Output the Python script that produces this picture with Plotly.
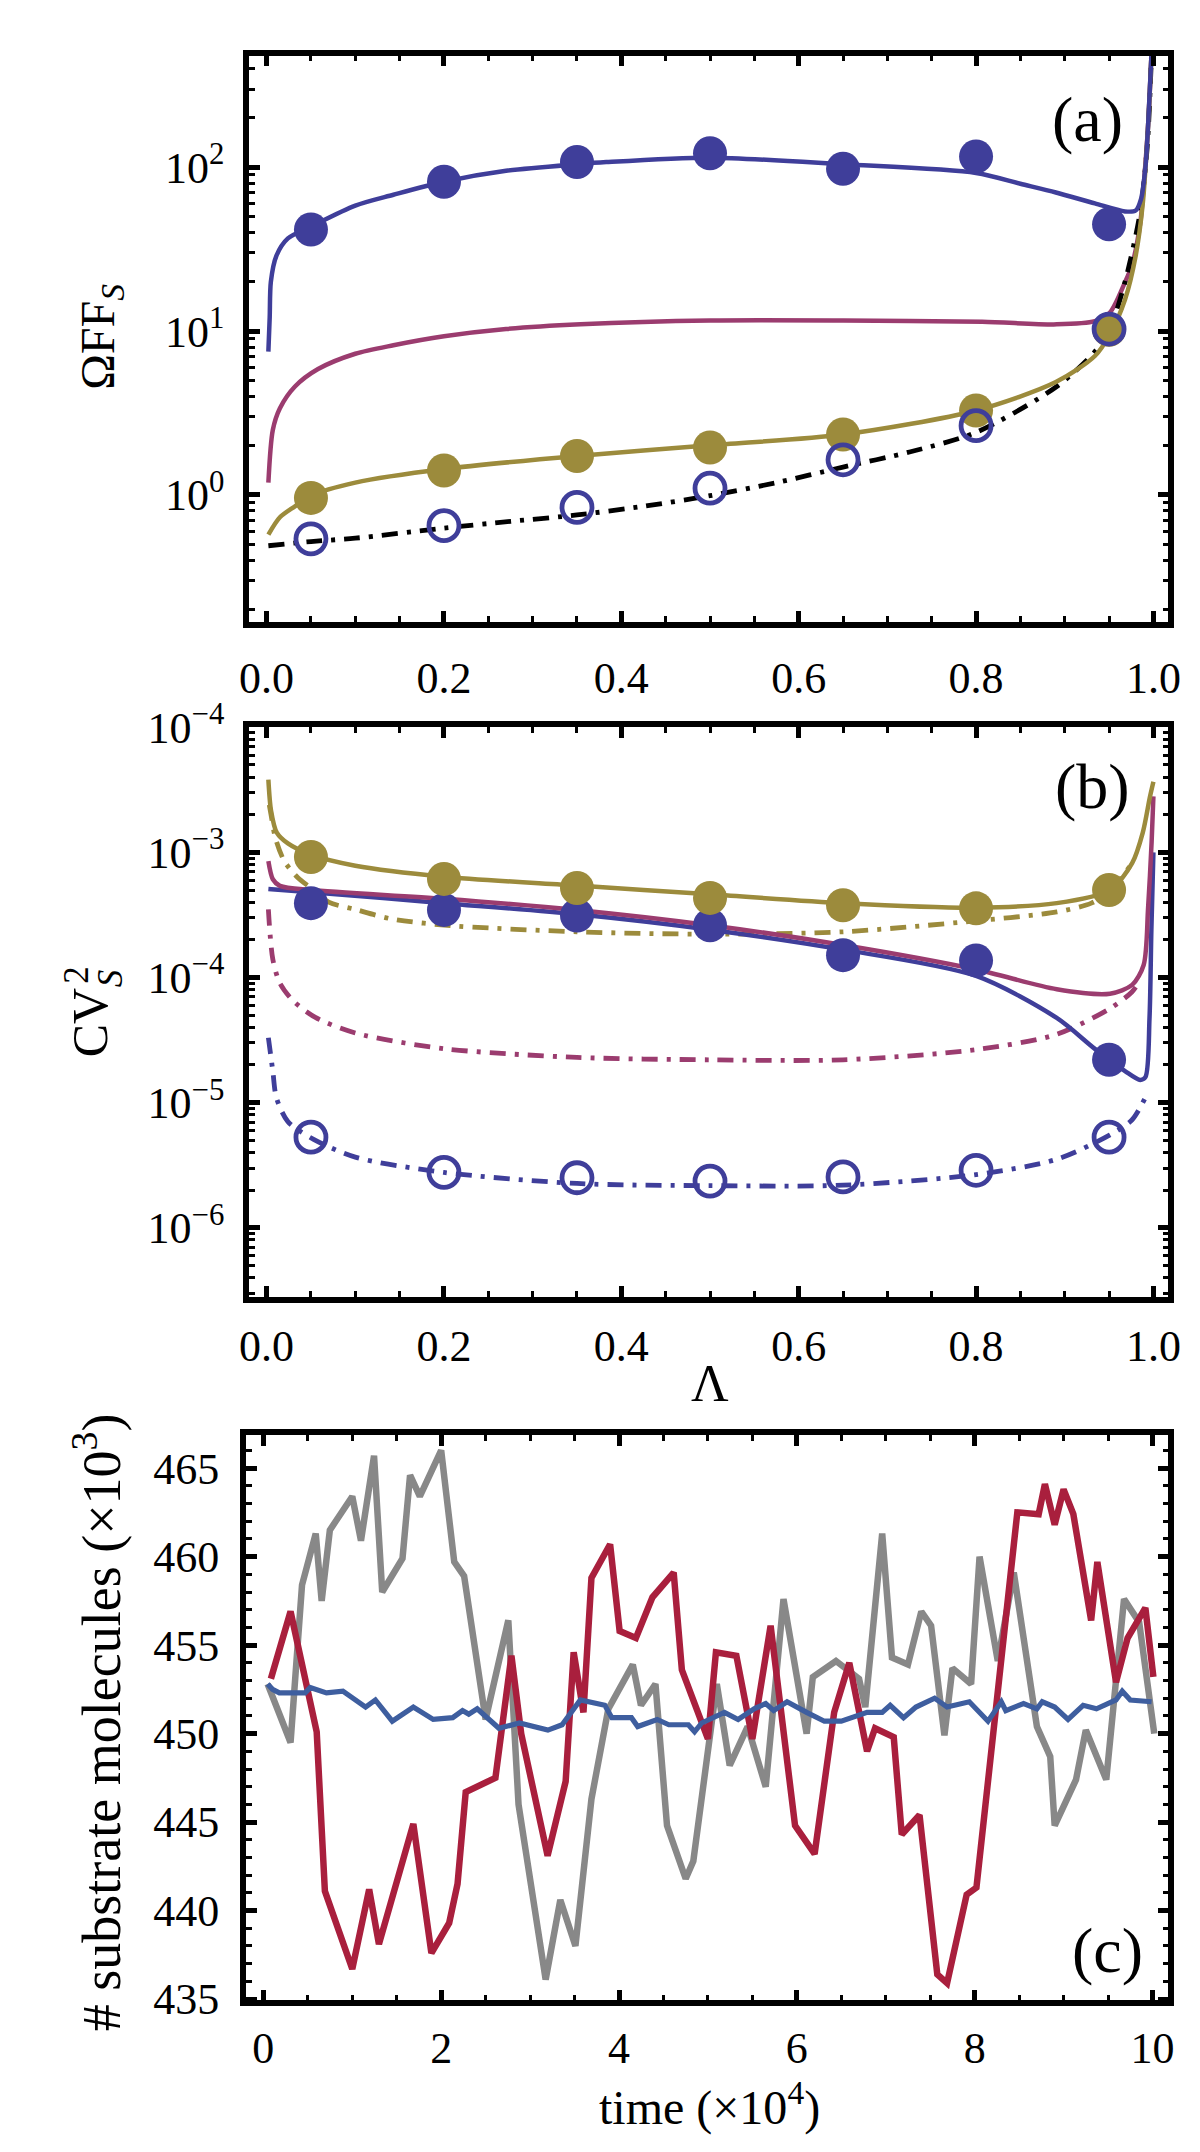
import plotly.graph_objects as go

FONT = "Liberation Serif, Times New Roman, DejaVu Serif, serif"
W, H = 1200, 2152

BLUE = "#3f3e9a"
MAGENTA = "#9b3c6f"
GOLD = "#9c8b3c"
GRAY = "#888888"
RED = "#a91f3d"
CBLUE = "#3e5e9f"

# ---------------- panel (a) data ----------------
lam_markers = [0.05, 0.2, 0.35, 0.5, 0.65, 0.8, 0.95]
a_blue_filled = [41.7, 81.7, 107.6, 121.7, 98.0, 116.5, 44.9]
a_gold_filled = [0.96, 1.41, 1.73, 1.95, 2.34, 3.28, 10.2]
a_blue_open = [0.54, 0.65, 0.84, 1.10, 1.64, 2.65, 10.3]

a_blue_x = [0.002, 0.0035, 0.0048, 0.011, 0.024, 0.053, 0.1, 0.143, 0.2, 0.27, 0.35, 0.383, 0.5,
            0.65, 0.8, 0.85, 0.89, 0.934, 0.968, 0.98, 0.986, 0.991, 0.994, 0.998]
a_blue_y = [7.5, 12.2, 20.0, 28.8, 36.8, 44.3, 58.4, 68.0, 81.7, 95.2, 104.4, 107.6, 114.5,
            104.4, 92.3, 79.3, 70.2, 60.2, 53.8, 54.5, 64.0, 100.0, 180.0, 515.0]

a_mag_x = [0.002, 0.007, 0.015, 0.032, 0.058, 0.1, 0.143, 0.2, 0.27, 0.354, 0.5, 0.65, 0.807,
           0.891, 0.934, 0.951, 0.968, 0.976, 0.985, 0.99, 0.994, 0.998]
a_mag_y = [1.19, 2.49, 3.38, 4.59, 5.87, 7.28, 8.2, 9.3, 10.3, 11.0, 11.6, 11.6, 11.4,
           11.0, 11.5, 13.0, 19.9, 25.5, 45.0, 90.0, 180.0, 515.0]

a_gold_x = [0.002, 0.015, 0.032, 0.05, 0.1, 0.2, 0.35, 0.5, 0.65, 0.8, 0.89, 0.934, 0.951,
            0.968, 0.98, 0.988, 0.994, 0.998]
a_gold_y = [0.573, 0.731, 0.853, 0.99, 1.19, 1.44, 1.73, 2.01, 2.34, 3.28, 4.89, 7.05, 9.57,
            15.6, 28.8, 60.0, 180.0, 515.0]

a_black_x = [0.002, 0.05, 0.1, 0.2, 0.275, 0.35, 0.425, 0.5, 0.575, 0.65, 0.725, 0.8, 0.891,
             0.934, 0.95, 0.968, 0.985, 0.993, 0.998]
a_black_y = [0.49, 0.52, 0.545, 0.628, 0.69, 0.755, 0.853, 0.99, 1.19, 1.48, 1.83, 2.41, 4.59,
             7.5, 10.0, 20.0, 53.0, 133.0, 515.0]

# ---------------- panel (b) data ----------------
b_gold_m = [9.2e-4, 6.14e-4, 5.2e-4, 4.33e-4, 3.78e-4, 3.57e-4, 5.0e-4]
b_blue_m = [3.93e-4, 3.47e-4, 3.13e-4, 2.62e-4, 1.51e-4, 1.37e-4, 2.2e-5]
b_open_m = [5.3e-6, 2.77e-6, 2.51e-6, 2.36e-6, 2.55e-6, 2.88e-6, 5.3e-6]

b_gold_x = [0.002, 0.005, 0.0115, 0.024, 0.05, 0.1, 0.2, 0.35, 0.5, 0.65, 0.8, 0.891, 0.951,
            0.976, 0.988, 0.996, 1.0]
b_gold_y = [3.82e-3, 2.16e-3, 1.44e-3, 1.18e-3, 9.6e-4, 7.83e-4, 6.4e-4, 5.43e-4, 4.62e-4,
            3.93e-4, 3.62e-4, 3.93e-4, 5.0e-4, 8.2e-4, 1.44e-3, 2.76e-3, 3.67e-3]

b_gold_dd_x = [0.003, 0.005, 0.01, 0.02, 0.035, 0.05, 0.07, 0.1, 0.14, 0.2, 0.35, 0.5, 0.65,
               0.8, 0.891, 0.93, 0.95, 0.976]
b_gold_dd_y = [2.4e-3, 2.0e-3, 1.3e-3, 8.5e-4, 6.3e-4, 5.2e-4, 4.0e-4, 3.5e-4, 2.95e-4, 2.62e-4,
               2.32e-4, 2.22e-4, 2.32e-4, 2.84e-4, 3.34e-4, 3.93e-4, 4.81e-4, 8.2e-4]

b_mag_x = [0.002, 0.007, 0.015, 0.05, 0.2, 0.35, 0.5, 0.65, 0.8, 0.891, 0.951, 0.976, 0.989,
           0.994, 0.998, 1.0]
b_mag_y = [8.5e-4, 6.1e-4, 5.4e-4, 5.0e-4, 4.26e-4, 3.47e-4, 2.62e-4, 1.82e-4, 1.16e-4,
           8.06e-5, 7.43e-5, 8.73e-5, 1.26e-4, 3.6e-4, 1.22e-3, 2.8e-3]

b_blue_x = [0.002, 0.05, 0.2, 0.35, 0.5, 0.65, 0.8, 0.891, 0.934, 0.968, 0.985, 0.991, 0.9956,
            0.9977, 1.0]
b_blue_y = [5.1e-4, 4.8e-4, 3.93e-4, 3.2e-4, 2.41e-4, 1.67e-4, 1.03e-4, 4.75e-5, 2.69e-5,
            1.79e-5, 1.52e-5, 1.6e-5, 4.75e-5, 2.4e-4, 1.0e-3]

b_mag_dd_x = [0.002, 0.007, 0.015, 0.03, 0.055, 0.1, 0.2, 0.35, 0.5, 0.65, 0.8, 0.89, 0.95,
              0.976, 0.985]
b_mag_dd_y = [3.5e-4, 1.4e-4, 9.0e-5, 6.5e-5, 4.8e-5, 3.6e-5, 2.7e-5, 2.3e-5, 2.2e-5, 2.2e-5,
              2.65e-5, 3.5e-5, 5.6e-5, 7.7e-5, 9.5e-5]

b_blue_dd_x = [0.002, 0.007, 0.011, 0.024, 0.053, 0.1, 0.2, 0.35, 0.5, 0.65, 0.8, 0.891, 0.951,
               0.976, 0.991]
b_blue_dd_y = [3.3e-5, 1.79e-5, 1.1e-5, 7.05e-6, 5.09e-6, 3.67e-6, 2.77e-6, 2.26e-6, 2.17e-6,
               2.19e-6, 2.66e-6, 3.53e-6, 5.52e-6, 7.3e-6, 1.1e-5]

# ---------------- panel (c) data ----------------
c_gray_t = [0.048, 0.306, 0.435, 0.589, 0.656, 0.748, 1.0, 1.098, 1.245, 1.337, 1.565, 1.65,
            1.76, 2.0, 2.147, 2.258, 2.50, 2.755, 2.87, 3.175, 3.34, 3.51, 3.69, 3.88, 4.155,
            4.247, 4.41, 4.54, 4.75, 4.836, 5.1, 5.245, 5.447, 5.65, 5.85, 6.11, 6.18, 6.44,
            6.70, 6.77, 6.96, 7.07, 7.25, 7.40, 7.51, 7.66, 7.75, 7.96, 8.055, 8.26, 8.44,
            8.70, 8.85, 8.90, 9.14, 9.25, 9.48, 9.68, 9.85, 10.02]
c_gray_v = [452.8, 449.5, 458.4, 461.3, 457.5, 461.5, 463.4, 460.9, 465.7, 458.0, 459.9, 464.6,
            463.4, 466.0, 459.7, 458.9, 450.8, 456.4, 446.0, 436.1, 440.6, 438.0, 446.3, 451.4,
            453.9, 451.6, 452.8, 444.8, 441.8, 442.8, 452.8, 448.2, 450.4, 447.0, 457.6, 450.0,
            453.2, 454.1, 453.1, 451.5, 461.3, 454.3, 453.9, 456.9, 456.1, 449.9, 453.7, 452.8,
            460.0, 454.1, 459.1, 450.4, 448.7, 444.8, 447.4, 450.2, 447.4, 457.6, 456.3, 450.0]

c_red_t = [0.085, 0.306, 0.60, 0.692, 1.0, 1.19, 1.30, 1.687, 1.89, 2.09, 2.184, 2.276, 2.61,
           2.79, 2.90, 3.197, 3.40, 3.49, 3.60, 3.69, 3.90, 4.007, 4.19, 4.376, 4.615, 4.707,
           5.0, 5.09, 5.32, 5.50, 5.705, 5.98, 6.20, 6.42, 6.59, 6.79, 6.88, 7.09, 7.18, 7.38,
           7.58, 7.69, 7.91, 8.02, 8.48, 8.72, 8.79, 8.90, 9.0, 9.11, 9.31, 9.38, 9.59, 9.72,
           9.92, 10.01]
c_red_v = [453.1, 456.9, 450.1, 441.1, 436.7, 441.2, 438.1, 444.9, 437.6, 439.3, 441.5, 446.7,
           447.5, 454.4, 450.0, 443.1, 447.3, 454.6, 451.2, 458.8, 460.7, 455.8, 455.4, 457.7,
           459.1, 453.6, 449.7, 454.6, 454.4, 449.7, 456.1, 444.8, 443.2, 451.2, 454.0, 449.0,
           450.3, 449.8, 444.3, 445.4, 436.4, 435.9, 440.9, 441.3, 462.5, 462.4, 464.1, 461.8,
           463.8, 462.4, 456.4, 459.7, 452.9, 455.4, 457.1, 453.2]

c_blue_t = [0.048, 0.103, 0.18, 0.47, 0.527, 0.71, 0.895, 1.15, 1.26, 1.45, 1.687, 1.91, 2.13,
            2.24, 2.31, 2.405, 2.65, 2.88, 3.20, 3.36, 3.565, 3.84, 3.92, 4.14, 4.21, 4.43,
            4.56, 4.78, 4.85, 4.93, 5.186, 5.34, 5.52, 5.65, 5.74, 5.89, 6.11, 6.31, 6.50,
            6.79, 6.96, 7.05, 7.2, 7.34, 7.55, 7.69, 7.94, 8.15, 8.30, 8.35, 8.55, 8.70, 8.76,
            8.90, 9.05, 9.22, 9.37, 9.59, 9.66, 9.75, 9.99]
c_blue_v = [452.8, 452.5, 452.3, 452.3, 452.6, 452.3, 452.4, 451.5, 451.9, 450.7, 451.5, 450.8,
            450.9, 451.3, 451.1, 451.4, 450.3, 450.6, 450.2, 450.5, 451.9, 451.6, 450.9, 450.9,
            450.4, 450.8, 450.5, 450.5, 450.1, 450.6, 451.2, 450.8, 451.4, 451.7, 451.3, 451.8,
            451.2, 450.7, 450.7, 451.2, 451.2, 451.6, 450.9, 451.5, 452.0, 451.5, 451.8, 450.7,
            451.8, 451.3, 451.7, 451.4, 451.8, 451.5, 450.8, 451.6, 451.4, 451.9, 452.4, 451.9,
            451.8]

# tick labels
lam_ticks = [0.0, 0.2, 0.4, 0.6, 0.8, 1.0]
lam_ticktext = ["0.0", "0.2", "0.4", "0.6", "0.8", "1.0"]
a_yticks = [1, 10, 100]
a_yticktext = ["10<sup>0</sup>", "10<sup>1</sup>", "10<sup>2</sup>"]
b_yticks = [1e-6, 1e-5, 1e-4, 1e-3, 1e-2]
b_yticktext = ["10<sup>\u22126</sup>", "10<sup>\u22125</sup>", "10<sup>\u22124</sup>",
               "10<sup>\u22123</sup>", "10<sup>\u22124</sup>"]
c_xticks = [0, 2, 4, 6, 8, 10]
c_yticks = [435, 440, 445, 450, 455, 460, 465]

# ---------------- figure ----------------
def px(x):
    return x / W


def py(y):
    return 1 - y / H


DD = "16px,9px,4px,9px"
fig = go.Figure()


def line(x, y, color, ax, width=4.5, dash="solid", shape="spline"):
    ln = dict(color=color, width=width, dash=dash, shape=shape)
    if shape == "spline":
        ln["smoothing"] = 0.8
    fig.add_trace(go.Scatter(x=x, y=y, mode="lines", xaxis=ax[0], yaxis=ax[1], line=ln,
                             showlegend=False, hoverinfo="skip"))


def filled(x, y, color, ax):
    fig.add_trace(go.Scatter(x=x, y=y, mode="markers", xaxis=ax[0], yaxis=ax[1],
                             marker=dict(symbol="circle", size=34, color=color,
                                         line=dict(width=0)),
                             showlegend=False, cliponaxis=False))


def opened(x, y, color, ax):
    fig.add_trace(go.Scatter(x=x, y=y, mode="markers", xaxis=ax[0], yaxis=ax[1],
                             marker=dict(symbol="circle-open", size=30, color=color,
                                         line=dict(width=4.8, color=color)),
                             showlegend=False, cliponaxis=False))


A = ("x", "y")
B = ("x2", "y2")
C = ("x3", "y3")

# panel (a)
line(a_mag_x, a_mag_y, MAGENTA, A)
line(a_black_x, a_black_y, "black", A, width=4.8, dash=DD)
line(a_gold_x, a_gold_y, GOLD, A)
line(a_blue_x, a_blue_y, BLUE, A)
filled(lam_markers, a_blue_filled, BLUE, A)
filled(lam_markers, a_gold_filled, GOLD, A)
opened(lam_markers, a_blue_open, BLUE, A)

# panel (b)
line(b_gold_dd_x, b_gold_dd_y, GOLD, B, width=4.8, dash=DD)
line(b_mag_dd_x, b_mag_dd_y, MAGENTA, B, width=4.8, dash=DD)
line(b_blue_dd_x, b_blue_dd_y, BLUE, B, width=4.8, dash=DD)
line(b_blue_x, b_blue_y, BLUE, B)
line(b_mag_x, b_mag_y, MAGENTA, B)
line(b_gold_x, b_gold_y, GOLD, B)
filled(lam_markers, b_blue_m, BLUE, B)
filled(lam_markers, b_gold_m, GOLD, B)
opened(lam_markers, b_open_m, BLUE, B)

# panel (c)
line(c_gray_t, c_gray_v, GRAY, C, width=6.5, shape="linear")
line(c_red_t, c_red_v, RED, C, width=6.5, shape="linear")
line(c_blue_t, c_blue_v, CBLUE, C, width=5.2, shape="linear")

TICKFONT = dict(family=FONT, size=44, color="black")
MINOR = dict(ticks="inside", ticklen=6, tickwidth=3, tickcolor="black", showgrid=False)


def frame(**kw):
    d = dict(showline=True, linecolor="black", linewidth=5.5, mirror="allticks",
             ticks="inside", ticklen=11, tickwidth=4.5, tickcolor="black",
             showgrid=False, zeroline=False, tickfont=TICKFONT, fixedrange=True)
    d.update(kw)
    return d


def log_minor(lo, hi):
    vals = []
    for e in range(lo, hi + 1):
        for k in range(2, 10):
            vals.append(k * 10.0 ** e)
    return vals


XA_DOM = [px(236), px(1172)]
XC_DOM = [px(233), px(1172)]

layout = dict(
    width=W, height=H, margin=dict(l=0, r=0, t=0, b=0),
    paper_bgcolor="white", plot_bgcolor="white",
    font=dict(family=FONT, color="black"),
    xaxis=frame(domain=XA_DOM, anchor="y", range=[-0.02, 1.017],
                tickmode="array", tickvals=lam_ticks, ticktext=lam_ticktext,
                ticklabelstandoff=12,
                minor=dict(MINOR, dtick=0.05, tick0=0)),
    yaxis=frame(domain=[py(599), py(18)], anchor="x", type="log", range=[-0.775, 2.682],
                tickmode="array", tickvals=a_yticks, ticktext=a_yticktext,
                ticklabelstandoff=10,
                minor=dict(MINOR, tickmode="array", tickvals=log_minor(-1, 2))),
    xaxis2=frame(domain=XA_DOM, anchor="y2", range=[-0.02, 1.017],
                 tickmode="array", tickvals=lam_ticks, ticktext=lam_ticktext,
                 ticklabelstandoff=6,
                 minor=dict(MINOR, dtick=0.05, tick0=0)),
    yaxis2=frame(domain=[py(1291), py(707)], anchor="x2", type="log", range=[-6.55, -2.0],
                 tickmode="array", tickvals=b_yticks, ticktext=b_yticktext,
                 ticklabelstandoff=10,
                 minor=dict(MINOR, tickmode="array", tickvals=log_minor(-7, -3))),
    xaxis3=frame(domain=XC_DOM, anchor="y3", range=[-0.196, 10.18],
                 tickmode="array", tickvals=c_xticks, ticktext=[str(v) for v in c_xticks],
                 ticklabelstandoff=4,
                 minor=dict(MINOR, dtick=0.5, tick0=0)),
    yaxis3=frame(domain=[py(2013), py(1433)], anchor="x3", range=[434.92, 466.87],
                 tickmode="array", tickvals=c_yticks, ticktext=[str(v) for v in c_yticks],
                 ticklabelstandoff=12,
                 minor=dict(MINOR, dtick=1, tick0=435)),
)
fig.update_layout(**layout)


def note(text, x, y, size, angle=0):
    fig.add_annotation(xref="paper", yref="paper", showarrow=False, text=text,
                       x=px(x), y=py(y), xanchor="center", yanchor="middle",
                       textangle=angle, font=dict(family=FONT, size=size, color="black"))


# axis titles
note("\u03a9FF<sub><i>S</i></sub>", 86, 306, 48, -90)
note("CV", 74, 1010, 50, -90)
note("<i>S</i>", 95, 964, 35, -90)
note("2", 61, 961, 35, -90)
note("# substrate molecules (\u00d710<sup>3</sup>)", 82, 1728, 54, -90)
note("\u039b", 705, 1380, 52)
note("time (\u00d710<sup>4</sup>)", 705, 2120, 48)

# panel letters
note("(a)", 1090, 84, 64)
note("(b)", 1095, 768, 64)
note("(c)", 1110, 1962, 64)

fig.write_html("out.html")
